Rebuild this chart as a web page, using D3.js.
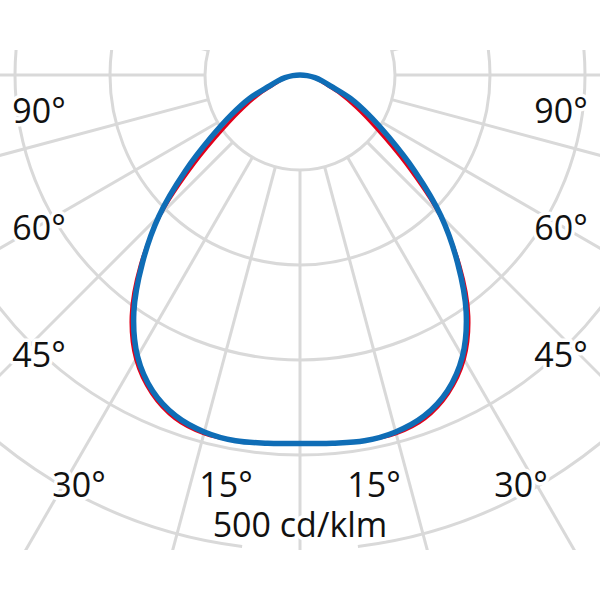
<!DOCTYPE html>
<html>
<head>
<meta charset="utf-8">
<script src="https://cdn.jsdelivr.net/npm/d3@7"></script>
<style>
  html, body { margin: 0; padding: 0; background: #fff; }
  svg { display: block; }
</style>
</head>
<body>
<svg id="chart" width="600" height="600"></svg>
<script>
// ---- data ----
const gammaAngles = [0, 5, 10, 15, 20, 25, 30, 35, 40, 45, 50, 55, 60, 65, 70, 75, 80, 85, 90];
const blueValues  = [388, 389, 391, 389, 382, 367, 342, 305, 258, 210, 158, 114, 83, 59, 35, 24, 16, 7.7, 0];
const redValues   = [388, 389, 391, 391, 385, 370, 346, 310, 262, 207, 145, 98, 68, 46, 28, 20, 13, 6.5, 0];
const ringValues  = [100, 200, 300, 400, 500];
const spokeAngles = d3.range(0, 360, 15);
const sideLabels  = ["90°", "60°", "45°"];
const bottomLabels = ["30°", "15°", "15°", "30°"];
const unitLabel   = "500 cd/klm";

// ---- layout ----
const W = 600, H = 600;
const cx = 300, cy = 75;
const rScale = d3.scaleLinear().domain([0, 500]).range([0, 475]);
const grid = { top: 50, bottom: 550 };
const gridColor = "#d9d9d9";
const blue = "#0f6db6", red = "#e2001a";
const fontFamily = "'Open Sans', 'Noto Sans', sans-serif";
const fontSize = 34;
const rad = a => a * Math.PI / 180;

const svg = d3.select("#chart");
svg.append("defs").append("clipPath").attr("id", "gridClip")
  .append("rect").attr("x", 0).attr("y", grid.top).attr("width", W).attr("height", grid.bottom - grid.top);

const g = svg.append("g").attr("clip-path", "url(#gridClip)")
  .attr("fill", "none").attr("stroke", gridColor).attr("stroke-width", 3);

// spokes
const rMin = rScale(ringValues[0]), rMax = rScale(1000);
g.selectAll("line.spoke").data(spokeAngles).join("line")
  .attr("class", "spoke")
  .attr("x1", a => cx + rMin * Math.sin(rad(a)))
  .attr("y1", a => cy + rMin * Math.cos(rad(a)))
  .attr("x2", a => cx + rMax * Math.sin(rad(a)))
  .attr("y2", a => cy + rMax * Math.cos(rad(a)));

// rings (outer ring has a gap for the unit label)
const gapHalf = rad(7);
g.selectAll("path.ring").data(ringValues).join("path")
  .attr("class", "ring")
  .attr("d", v => {
    const p = d3.path();
    const r = rScale(v);
    if (v === ringValues[ringValues.length - 1]) {
      p.arc(cx, cy, r, Math.PI / 2 + gapHalf, Math.PI / 2 - gapHalf + 2 * Math.PI);
    } else {
      p.moveTo(cx + r, cy);
      p.arc(cx, cy, r, 0, 2 * Math.PI);
    }
    return p.toString();
  });

// curves (closed loop through the origin)
function buildPoints(values) {
  const left = gammaAngles.slice(0, -1).map((a, i) => ({ g: -a, v: values[i] })).reverse();
  const right = gammaAngles.slice(1).map((a, i) => ({ g: a, v: values[i + 1] }));
  return left.concat(right);
}
const radial = d3.lineRadial()
  .angle(d => Math.PI - rad(d.g))
  .radius(d => rScale(d.v))
  .curve(d3.curveCatmullRomClosed.alpha(0.5));

const curves = svg.append("g").attr("transform", `translate(${cx},${cy})`).attr("fill", "none")
  .attr("stroke-linejoin", "round").attr("stroke-linecap", "round");
curves.append("path").attr("d", radial(buildPoints(redValues)))
  .attr("stroke", red).attr("stroke-width", 3);
curves.append("path").attr("d", radial(buildPoints(blueValues)))
  .attr("stroke", blue).attr("stroke-width", 5.5);

// labels
const labels = svg.append("g")
  .attr("font-family", fontFamily).attr("font-size", fontSize)
  .attr("fill", "#111").attr("text-anchor", "middle")
  .attr("stroke", "#fff").attr("stroke-width", 7).attr("stroke-linejoin", "round")
  .attr("paint-order", "stroke");

const sideY = [123, 240, 367];
const sideX = [39, 561];
sideLabels.forEach((t, i) => {
  sideX.forEach(x => labels.append("text").attr("x", x).attr("y", sideY[i]).text(t));
});
const bottomX = [79, 226, 374, 521];
bottomLabels.forEach((t, i) => labels.append("text").attr("x", bottomX[i]).attr("y", 497).text(t));
labels.append("text").attr("x", cx).attr("y", 537).text(unitLabel);
</script>
</body>
</html>
